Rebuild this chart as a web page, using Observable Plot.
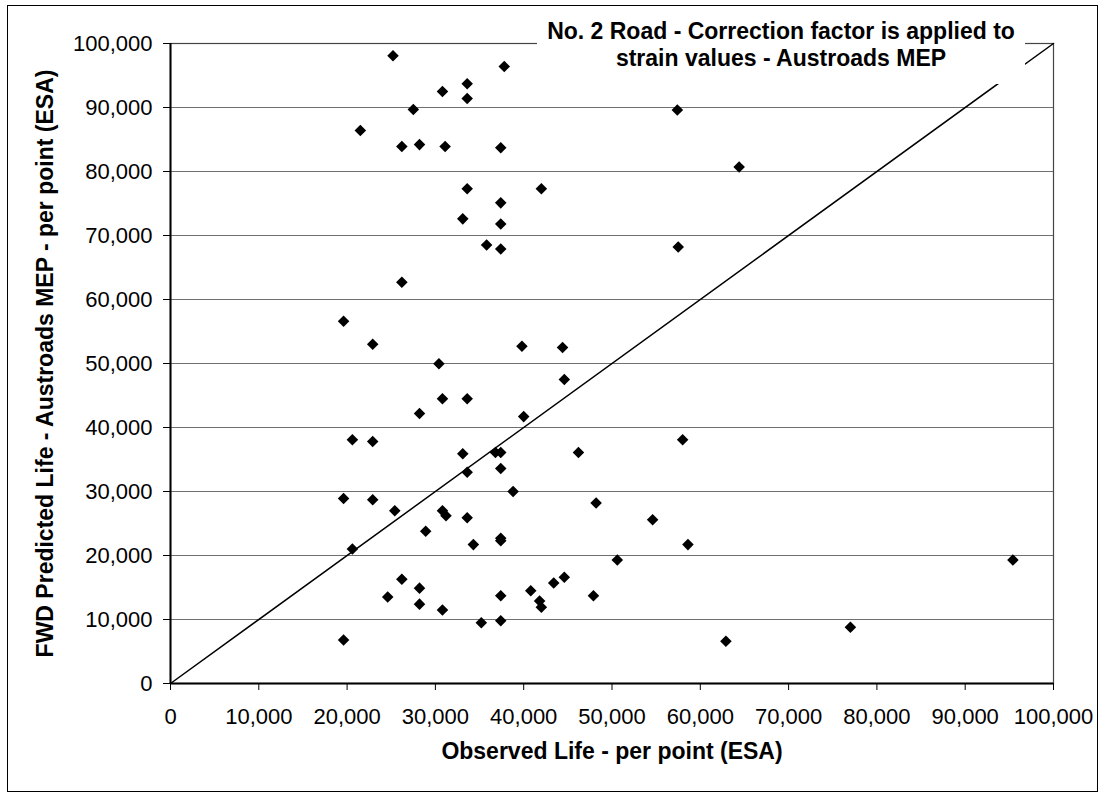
<!DOCTYPE html>
<html><head><meta charset="utf-8">
<script src="https://cdn.jsdelivr.net/npm/d3@7"></script>
<script src="https://cdn.jsdelivr.net/npm/@observablehq/plot@0.6"></script>
<style>
body{margin:0;background:#fff;font-family:"Liberation Sans",Arial,sans-serif;}
#wrap{position:relative;width:1102px;height:794px;overflow:hidden;background:#fff;}
#chart{position:absolute;left:0;top:0;}
#border{position:absolute;left:7px;top:5px;width:1091px;height:787px;border:1px solid #000;box-sizing:border-box;}
#title{position:absolute;left:537px;top:14px;width:488px;height:70px;background:#fff;font-weight:bold;font-size:23px;text-align:center;line-height:27px;padding-top:4px;box-sizing:border-box;color:#000;}
</style></head><body>
<div id="wrap"><div id="border"></div><div id="chart"></div><div id="title">No. 2 Road - Correction factor is applied to<br>strain values - Austroads MEP</div></div>
<script>
// Observed life (x) and FWD predicted life (y), per point (ESA)
const observed = [25200,37800,33600,30800,33600,27500,57400,21500,26200,28200,31100,37400,64400,33600,42000,37400,33100,37400,35800,37400,57500,26200,19600,22900,39800,44400,30400,44600,30800,33600,28200,40000,20600,22900,58000,33100,36800,37400,46200,33600,37400,38800,19600,22900,48200,25400,30800,31200,33600,54600,28900,37400,37400,34300,58600,20600,50600,95400,44600,26200,43400,28200,40800,24600,37400,47900,41800,28200,42000,30800,37400,35200,77000,19600,62900];
const predicted = [98100,96400,93700,92500,91400,89700,89600,86400,83900,84200,83900,83700,80700,77300,77300,75100,72600,71800,68500,67900,68200,62700,56600,53000,52700,52500,49950,47500,44500,44500,42200,41700,38100,37800,38100,35900,36100,36100,36100,33000,33600,30000,28900,28700,28200,27000,27000,26200,25900,25600,23800,22700,22300,21700,21700,21000,19300,19300,16600,16300,15700,14900,14500,13500,13700,13700,12900,12400,11900,11500,9800,9500,8800,6800,6600];
const tickValues = [0,10000,20000,30000,40000,50000,60000,70000,80000,90000,100000];
const diagonalX = [0,100000];
const diagonalY = [0,100000];
const xTitle = "Observed Life - per point (ESA)";
const yTitle = "FWD Predicted Life - Austroads MEP - per point (ESA)";

const points = observed.map((x,i)=>({x, y: predicted[i]}));
const diag = diagonalX.map((x,i)=>({x, y: diagonalY[i]}));
const fmt = d3.format(",");
const font = "'Liberation Sans', Arial, Helvetica, sans-serif";

const chart = Plot.plot({
  width:1102, height:794,
  marginLeft:170, marginRight:49, marginTop:43, marginBottom:111,
  style:{fontFamily:font, color:"#000", background:"transparent", overflow:"visible"},
  x:{domain:[0,100000]},
  y:{domain:[0,100000]},
  marks:[
    Plot.ruleY(tickValues.slice(1), {stroke:"#707070", strokeWidth:1}),
    Plot.frame({stroke:"#444", strokeWidth:1.2}),
    Plot.line(diag, {x:"x", y:"y", stroke:"#000", strokeWidth:1.5}),
    Plot.dot(points, {x:"x", y:"y", symbol:"diamond2", r:5.2, fill:"#000"}),
    Plot.axisX({ticks:tickValues, tickFormat:fmt, tickSize:7, tickPadding:18, label:null, fontSize:22, stroke:"#000"}),
    Plot.axisY({ticks:tickValues, tickFormat:fmt, tickSize:7, tickPadding:11, label:null, fontSize:22, stroke:"#000"}),
    Plot.ruleY([0], {stroke:"#000", strokeWidth:2}),
    Plot.ruleX([0], {stroke:"#000", strokeWidth:2}),
    Plot.text([xTitle], {text:d=>d, frameAnchor:"bottom", dy:75, textAnchor:"middle", fontWeight:"bold", fontSize:23, fill:"#000"}),
    Plot.text([yTitle], {text:d=>d, frameAnchor:"left", dx:-125, rotate:-90, textAnchor:"middle", fontWeight:"bold", fontSize:23, fill:"#000"})
  ]
});
document.getElementById("chart").appendChild(chart);
</script>
</body></html>
